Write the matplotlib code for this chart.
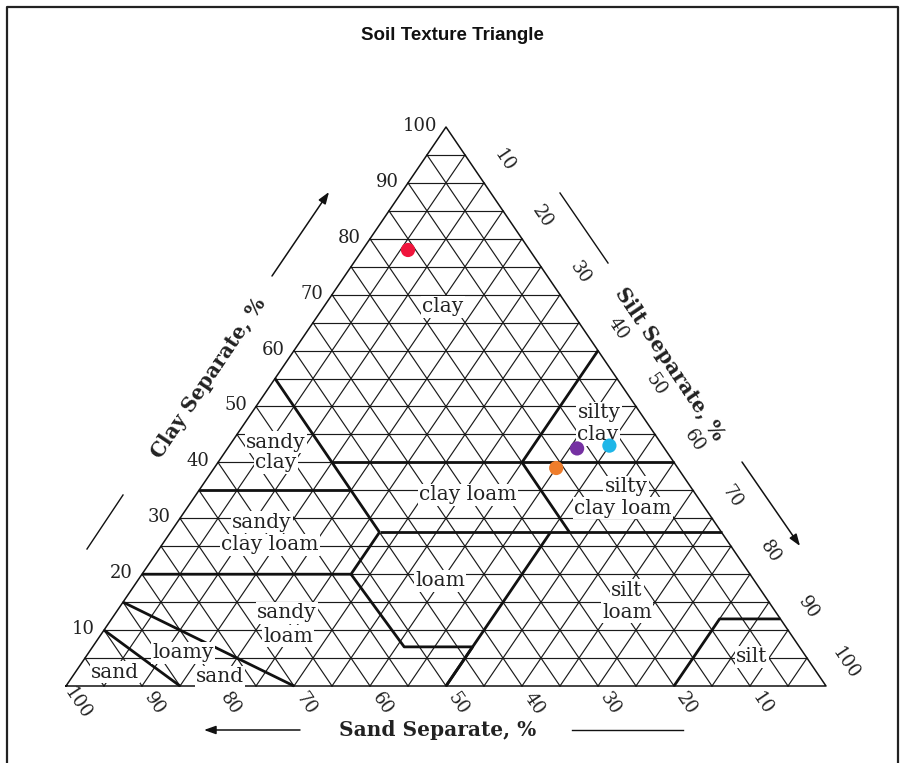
import matplotlib
matplotlib.use("Agg")
import matplotlib.pyplot as plt

# ---------------- data ----------------
title = "Soil Texture Triangle"

# sample compositions (percent)
sample_sand = [16, 11.5, 7, 16]
sample_silt = [6, 46, 50, 45]
sample_clay = [78, 42.5, 43, 39]
sample_colors = ["#F0143C", "#7530A2", "#1EB6E8", "#EF7D2C"]

tick_values = [10, 20, 30, 40, 50, 60, 70, 80, 90, 100]
grid_values = list(range(5, 100, 5))

# USDA class boundaries as polylines of (sand, silt, clay)
boundaries = [
    [(90, 0, 10), (85, 15, 0)],
    [(85, 0, 15), (70, 30, 0)],
    [(80, 0, 20), (52.5, 27.5, 20), (45, 27.5, 27.5)],
    [(45, 0, 55), (45, 27.5, 27.5)],
    [(65, 0, 35), (45, 20, 35)],
    [(45, 15, 40), (0, 60, 40)],
    [(0, 40, 60), (20, 40, 40), (20, 52.5, 27.5)],
    [(45, 27.5, 27.5), (0, 72.5, 27.5)],
    [(52.5, 27.5, 20), (52, 41, 7), (43, 50, 7), (50, 50, 0)],
    [(50, 50, 0), (22.5, 50, 27.5)],
    [(20, 80, 0), (8, 80, 12), (0, 88, 12)],
]

# ---------------- layout ----------------
W, H = 907, 763
TL, TR, TB, TT = 66, 826, 686, 127   # triangle corners in pixels

fig = plt.figure(figsize=(W / 100, H / 100), dpi=100)
fig.patch.set_facecolor("white")

ax = fig.add_axes([TL / W, (H - TB) / H, (TR - TL) / W, (TB - TT) / H])
ax.set_xlim(0, 100)
ax.set_ylim(0, 100)
ax.axis("off")

# overlay in pixel units for layout items
ov = fig.add_axes([0, 0, 1, 1])
ov.set_xlim(0, W)
ov.set_ylim(H, 0)
ov.axis("off")
ov.patch.set_alpha(0)


def tern(sand, silt, clay):
    s = sand + silt + clay
    silt, clay = silt * 100 / s, clay * 100 / s
    return silt + clay / 2, clay


GRID_KW = dict(color="#1a1a1a", lw=0.85, clip_on=False, zorder=1)
for v in grid_values:
    # constant clay
    p = [tern(100 - v, 0, v), tern(0, 100 - v, v)]
    ax.plot([p[0][0], p[1][0]], [p[0][1], p[1][1]], **GRID_KW)
    # constant silt
    p = [tern(100 - v, v, 0), tern(0, v, 100 - v)]
    ax.plot([p[0][0], p[1][0]], [p[0][1], p[1][1]], **GRID_KW)
    # constant sand
    p = [tern(v, 100 - v, 0), tern(v, 0, 100 - v)]
    ax.plot([p[0][0], p[1][0]], [p[0][1], p[1][1]], **GRID_KW)

# outer triangle
corners = [tern(100, 0, 0), tern(0, 100, 0), tern(0, 0, 100), tern(100, 0, 0)]
ax.plot([c[0] for c in corners], [c[1] for c in corners], color="#111111",
        lw=1.1, clip_on=False, zorder=2)

# class boundaries
for line in boundaries:
    pts = [tern(*p) for p in line]
    ax.plot([p[0] for p in pts], [p[1] for p in pts], color="#111111",
            lw=2.0, clip_on=False, zorder=3, solid_capstyle="butt")

TICK_FONT = dict(family=["DejaVu Serif"], fontsize=13, color="#222222")
for v in tick_values:
    # clay labels (left edge)
    ax.annotate(str(v), xy=tern(100 - v, 0, v), xytext=(-9, 1),
                textcoords="offset pixels", ha="right", va="center",
                annotation_clip=False, **TICK_FONT)
    # silt labels (right edge)
    ax.annotate(str(v), xy=tern(0, v, 100 - v), xytext=(20, 22),
                textcoords="offset pixels", ha="center", va="center",
                rotation=-56, annotation_clip=False, **TICK_FONT)
    # sand labels (bottom edge)
    ax.annotate(str(v), xy=tern(v, 100 - v, 0), xytext=(12, -18),
                textcoords="offset pixels", ha="center", va="center",
                rotation=-56, annotation_clip=False, **TICK_FONT)

# class labels (one entry per printed line), placed in pixel layout units
class_label_lines = [
    ("clay", 443, 307),
    ("silty", 599, 413), ("clay", 598, 435),
    ("sandy", 276, 442), ("clay", 276, 463),
    ("clay loam", 468, 495),
    ("silty", 626, 487), ("clay loam", 623, 508),
    ("sandy", 262, 522), ("clay loam", 270, 545),
    ("loam", 440, 581),
    ("silt", 627, 590), ("loam", 627, 612),
    ("sandy", 287, 613), ("loam", 288, 636),
    ("loamy", 183, 653), ("sand", 220, 677),
    ("sand", 115, 672),
    ("silt", 752, 657),
]
for txt, x, y in class_label_lines:
    ax.text(x, y, txt, transform=ov.transData, ha="center", va="center",
            family=["DejaVu Serif"], fontsize=14.5, color="#222222", zorder=4,
            clip_on=False,
            bbox=dict(boxstyle="square,pad=0.06", fc="white", ec="none"))

# sample points
for sa, si, cl, col in zip(sample_sand, sample_silt, sample_clay, sample_colors):
    x, y = tern(sa, si, cl)
    ax.scatter([x], [y], s=105, color=col, edgecolors="none", zorder=6,
               clip_on=False)

# axis titles
AX_FONT = dict(family=["DejaVu Serif"], fontsize=14.5, fontweight="bold",
               color="#222222")
ov.text(209, 378, "Clay Separate, %", rotation=56, ha="center", va="center",
        rotation_mode="anchor", **AX_FONT)
ov.text(670, 364, "Silt Separate, %", rotation=-56, ha="center", va="center",
        rotation_mode="anchor", **AX_FONT)
ov.text(438, 730, "Sand Separate, %", ha="center", va="center", **AX_FONT)

# arrows and plain direction lines
ARROW = dict(arrowstyle="-|>,head_length=0.7,head_width=0.25", color="#111111",
             lw=1.1, shrinkA=0, shrinkB=0)
for (x0, y0), (x1, y1) in [((272, 276), (329, 192)),
                           ((742, 462), (800, 546)),
                           ((300, 730), (204, 730))]:
    ov.annotate("", xy=(x1, y1), xytext=(x0, y0), arrowprops=ARROW)
for (x0, y0), (x1, y1) in [((87, 549), (123, 495)),
                           ((560, 193), (608, 263)),
                           ((572, 730), (683, 730))]:
    ov.plot([x0, x1], [y0, y1], color="#111111", lw=1.0)

# frame
ov.plot([7, 7, 898, 898], [H + 5, 7, 7, H + 5], color="#222222", lw=1.6,
        clip_on=False)

# title
ov.text(452, 36, title, ha="center", va="center", family=["Liberation Sans"],
        fontsize=13.5, fontweight="bold", color="#111111")

fig.savefig("out.png", dpi=100, facecolor="white")
